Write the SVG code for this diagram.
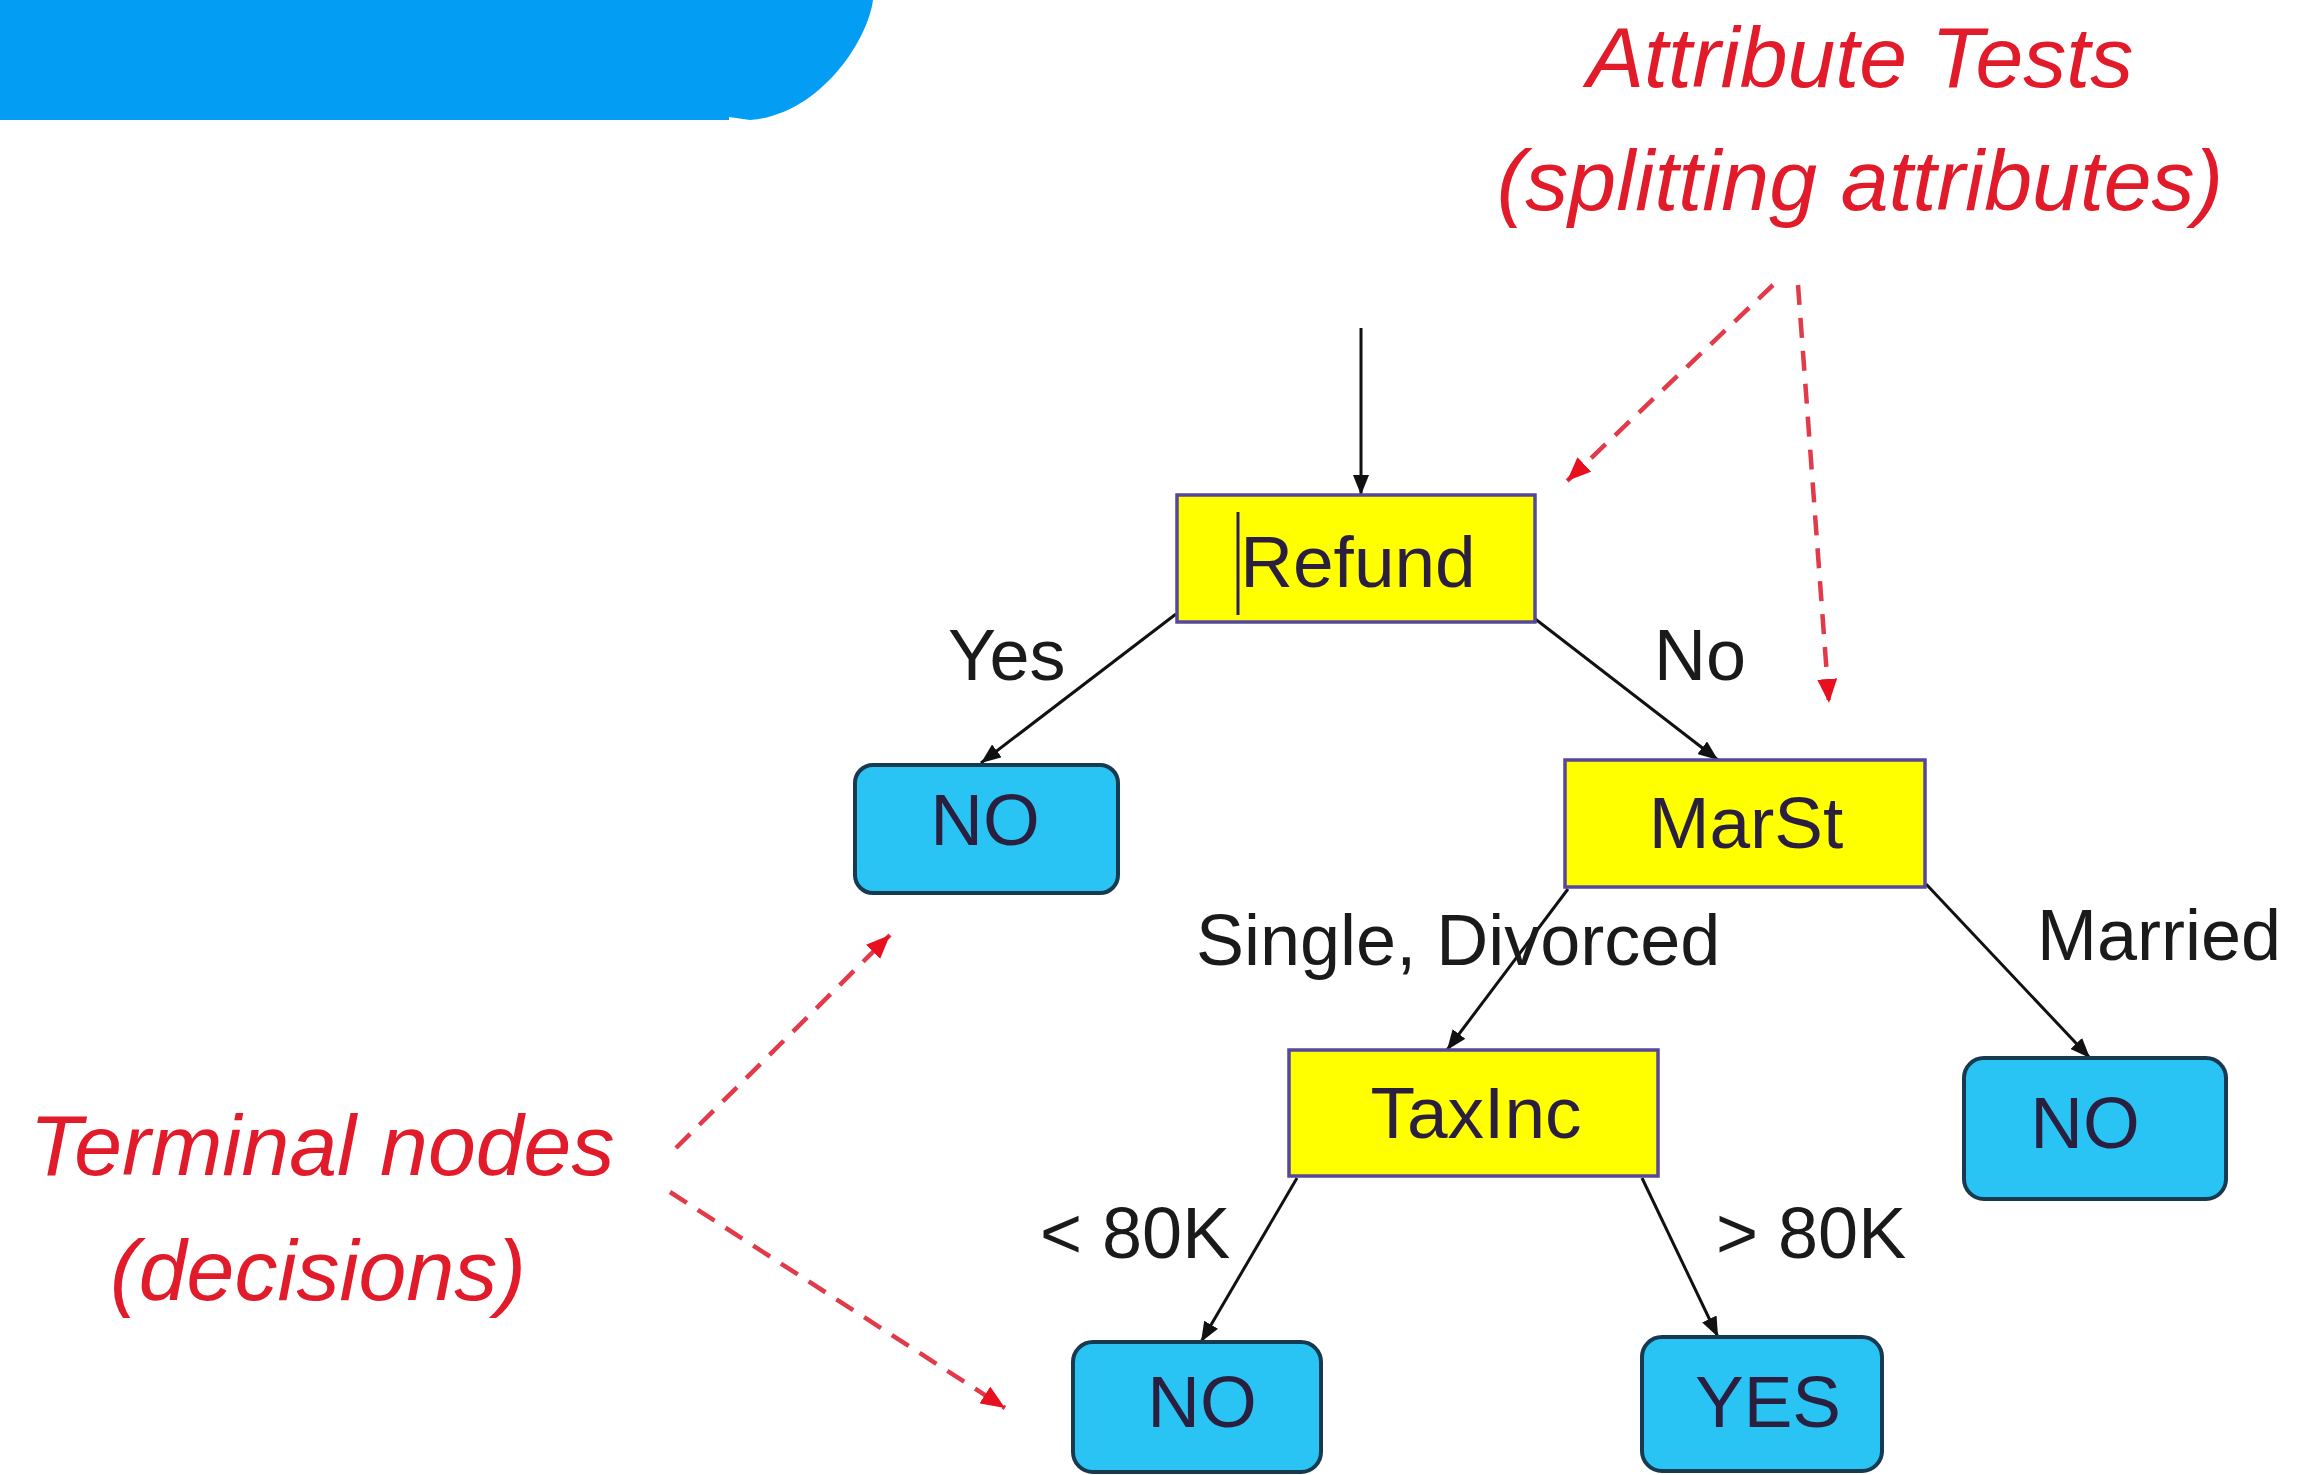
<svg xmlns="http://www.w3.org/2000/svg" width="2300" height="1475" viewBox="0 0 2300 1475">
<style>
.test rect{fill:#ffff00;stroke:#55479a;stroke-width:3.5}
.term rect{fill:#29c4f4;stroke:#173a50;stroke-width:4}
.nt{font-family:"Liberation Sans",Arial,sans-serif;font-size:73px;fill:#2a1f3f;text-anchor:middle}
.lbl{font-family:"Liberation Sans",Arial,sans-serif;font-size:72px;fill:#1a1a1a}
.red{font-family:"Liberation Sans",Arial,sans-serif;font-size:86px;font-style:italic;fill:#e21b2a;text-anchor:middle}
.edge{stroke:#111;stroke-width:3;fill:none;marker-end:url(#ah)}
.dash{stroke:#e23a48;stroke-width:4.5;stroke-dasharray:20 13;fill:none;marker-end:url(#rh)}
</style>
<defs>
<marker id="ah" markerUnits="userSpaceOnUse" markerWidth="22" markerHeight="16" refX="20" refY="8" orient="auto">
<path d="M0,0 L20,8 L0,16 z" fill="#111"/>
</marker>
<marker id="rh" markerUnits="userSpaceOnUse" markerWidth="26" markerHeight="20" refX="24" refY="10" orient="auto">
<path d="M0,0 L24,10 L0,20 z" fill="#e8101e"/>
</marker>
</defs>
<rect width="2300" height="1475" fill="#ffffff"/>
<path id="banner" d="M0,0 H873 C868,40 820,115 750,120 L729,117 V120 H0 Z" fill="#039ef3"/>
<g id="connectors">
<line class="edge" x1="1361" y1="328" x2="1361" y2="495"/>
<line class="edge" x1="1176" y1="614" x2="981" y2="763"/>
<line class="edge" x1="1534" y1="618" x2="1718" y2="760"/>
<line class="edge" x1="1568" y1="889" x2="1447" y2="1050"/>
<line class="edge" x1="1926" y1="884" x2="2090" y2="1058"/>
<line class="edge" x1="1297" y1="1178" x2="1201" y2="1342"/>
<line class="edge" x1="1642" y1="1178" x2="1718" y2="1337"/>
<line class="dash" x1="1773" y1="285" x2="1567" y2="481"/>
<line class="dash" x1="1798" y1="285" x2="1829" y2="703"/>
<line class="dash" x1="676" y1="1148" x2="890" y2="935"/>
<line class="dash" x1="670" y1="1192" x2="1005" y2="1408"/>
</g>
<g id="refund" class="test">
<rect x="1177" y="495" width="358" height="127"/>
<line x1="1238" y1="512" x2="1238" y2="615" stroke="#2a1f5f" stroke-width="3"/>
<text class="nt" x="1358" y="587">Refund</text>
</g>
<g id="no1" class="term">
<rect x="855" y="765" width="263" height="128" rx="18"/>
<text class="nt" x="985" y="845">NO</text>
</g>
<g id="marst" class="test">
<rect x="1565" y="760" width="360" height="127"/>
<text class="nt" x="1746" y="848">MarSt</text>
</g>
<g id="taxinc" class="test">
<rect x="1289" y="1050" width="369" height="126"/>
<text class="nt" x="1476" y="1138">TaxInc</text>
</g>
<g id="no2" class="term">
<rect x="1964" y="1058" width="262" height="141" rx="20"/>
<text class="nt" x="2085" y="1148">NO</text>
</g>
<g id="no3" class="term">
<rect x="1073" y="1342" width="248" height="130" rx="20"/>
<text class="nt" x="1202" y="1427">NO</text>
</g>
<g id="yes" class="term">
<rect x="1642" y="1337" width="240" height="134" rx="20"/>
<text class="nt" x="1768" y="1427">YES</text>
</g>
<g id="labels">
<text class="lbl" x="948" y="680" font-size="70">Yes</text>
<text class="lbl" x="1654" y="680" font-size="70">No</text>
<text class="lbl" x="1196" y="965" font-size="75">Single, Divorced</text>
<text class="lbl" x="2037" y="960" font-size="73">Married</text>
<text class="lbl" x="1040" y="1258" font-size="73">&lt; 80K</text>
<text class="lbl" x="1716" y="1258" font-size="73">&gt; 80K</text>
</g>
<g id="annotations">
<text class="red" x="1860" y="87">Attribute Tests</text>
<text class="red" x="1860" y="210">(splitting attributes)</text>
<text class="red" x="322" y="1175">Terminal nodes</text>
<text class="red" x="318" y="1300">(decisions)</text>
</g>
</svg>
